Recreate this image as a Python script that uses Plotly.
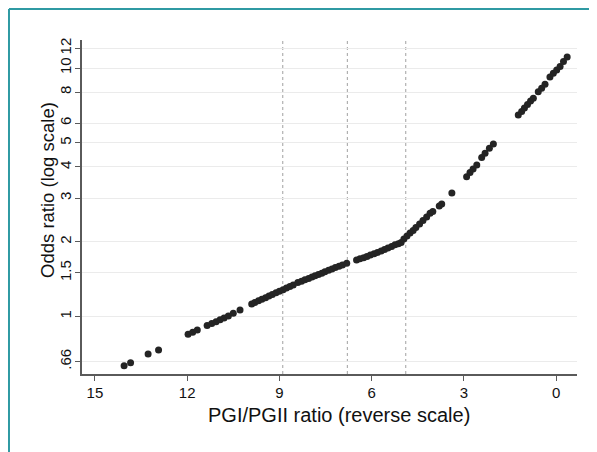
import plotly.graph_objects as go

# PGI/PGII ratio values (x) and odds ratios (y)
pgi_ratio = [
    14.05, 13.84, 13.27, 12.93, 11.97, 11.82, 11.67,
    11.35, 11.20, 11.06, 10.93, 10.80, 10.66, 10.50, 10.28,
    9.90, 9.80, 9.68, 9.57, 9.45, 9.34, 9.23, 9.11, 9.00, 8.88, 8.77, 8.66, 8.55,
    8.40, 8.28, 8.17, 8.05, 7.94, 7.84, 7.73, 7.62,
    7.52, 7.40, 7.29, 7.18, 7.06, 6.95, 6.81,
    6.49, 6.38, 6.26, 6.15, 6.04, 5.92, 5.81, 5.69, 5.58, 5.47, 5.35, 5.24, 5.13, 5.04,
    4.95, 4.85, 4.75, 4.65, 4.56, 4.44, 4.33, 4.21, 4.10, 4.01, 3.80, 3.72, 3.39,
    2.91, 2.80, 2.70, 2.58, 2.42, 2.31, 2.17, 2.04,
    1.23, 1.12, 1.03, 0.93, 0.83, 0.74,
    0.58, 0.47, 0.36,
    0.20, 0.09, -0.02, -0.13, -0.24, -0.36,
]
odds_ratio = [
    0.635, 0.653, 0.708, 0.735, 0.850, 0.866, 0.884,
    0.922, 0.939, 0.955, 0.972, 0.988, 1.007, 1.032, 1.064,
    1.125, 1.141, 1.158, 1.175, 1.192, 1.210, 1.228, 1.247, 1.265, 1.284, 1.303, 1.323, 1.341,
    1.373, 1.390, 1.409, 1.426, 1.444, 1.460, 1.478, 1.495,
    1.517, 1.537, 1.555, 1.576, 1.595, 1.615, 1.640,
    1.690, 1.709, 1.728, 1.748, 1.769, 1.790, 1.812, 1.836, 1.861, 1.889, 1.917, 1.946, 1.964, 1.988,
    2.053, 2.111, 2.171, 2.221, 2.284, 2.359, 2.437, 2.517, 2.605, 2.649, 2.787, 2.839, 3.144,
    3.656, 3.801, 3.926, 4.074, 4.368, 4.540, 4.755, 4.949,
    6.473, 6.686, 6.906, 7.133, 7.368, 7.555,
    8.031, 8.288, 8.601,
    9.202, 9.523, 9.819, 10.142, 10.623, 11.075,
]

cutoffs = [8.89, 6.79, 4.89]

x_ticks = [15, 12, 9, 6, 3, 0]
y_ticks = [0.66, 1, 1.5, 2, 3, 4, 5, 6, 8, 10, 12]
y_tick_text = [".66", "1", "1.5", "2", "3", "4", "5", "6", "8", "10", "12"]

x_title = "PGI/PGII ratio (reverse scale)"
y_title = "Odds ratio (log scale)"

FONT = "Liberation Sans, Arial, sans-serif"
AXIS_COLOR = "#5a5a5a"
FRAME_COLOR = "#2f9aa3"

fig = go.Figure()
fig.add_trace(go.Scatter(
    x=pgi_ratio, y=odds_ratio, mode="markers",
    marker=dict(size=7, color="#242424", line=dict(width=0)),
    showlegend=False, hoverinfo="x+y",
))

shapes = []
for c in cutoffs:
    shapes.append(dict(type="line", xref="x", yref="paper", x0=c, x1=c, y0=0, y1=1,
                       line=dict(color="#a0a0a0", width=1, dash="dot"), layer="below"))
# teal frame (left and top edges visible)
shapes.append(dict(type="line", xref="paper", yref="paper", x0=-0.1475, x1=-0.1475,
                   y0=1.0928, y1=-0.35, line=dict(color=FRAME_COLOR, width=2)))
shapes.append(dict(type="line", xref="paper", yref="paper", x0=-0.1475, x1=1.10,
                   y0=1.0928, y1=1.0928, line=dict(color=FRAME_COLOR, width=2)))

annotations = [
    dict(text=x_title, xref="paper", yref="paper", x=0.52, y=-0.1228,
         xanchor="center", yanchor="middle", showarrow=False,
         font=dict(size=20, color="#111111")),
    dict(text=y_title, xref="paper", yref="paper", x=-0.0687, y=0.551,
         xanchor="center", yanchor="middle", showarrow=False, textangle=-90,
         font=dict(size=18.5, color="#111111")),
]

# the page adds an 8px body margin, so the figure is 8px smaller on each axis
fig.update_layout(
    width=589, height=444,
    margin=dict(l=74, r=20, t=32, b=78),
    paper_bgcolor="white", plot_bgcolor="white",
    font=dict(family=FONT, color="#111111", size=15),
    shapes=shapes, annotations=annotations,
    xaxis=dict(
        range=[15.42, -0.68], tickvals=x_ticks, ticks="outside", ticklen=5,
        tickcolor=AXIS_COLOR, showline=True, linecolor=AXIS_COLOR, linewidth=1.5,
        showgrid=False, zeroline=False, tickfont=dict(size=15), ticklabelstandoff=-1,
    ),
    yaxis=dict(
        type="log", range=[-0.2304, 1.1127], tickvals=y_ticks, ticktext=y_tick_text,
        tickangle=-90, ticks="outside", ticklen=5, tickcolor=AXIS_COLOR,
        showline=True, linecolor=AXIS_COLOR, linewidth=1.5,
        showgrid=True, gridcolor="#ebebeb", gridwidth=1, zeroline=False,
        tickfont=dict(size=15), ticklabelstandoff=-2,
    ),
)

fig.write_html("out.html")
